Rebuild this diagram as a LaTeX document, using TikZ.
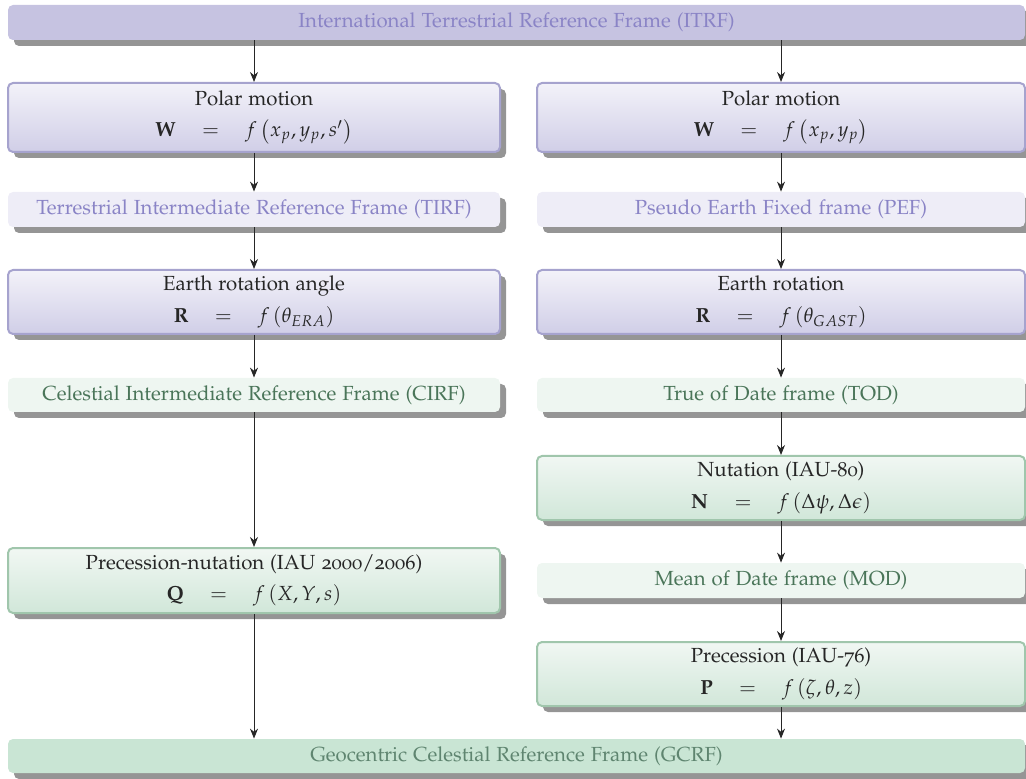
\documentclass[tikz,border=0pt]{standalone}
\usepackage[T1]{fontenc}
\usepackage[osf]{mathpazo}
\usetikzlibrary{shadows,arrows.meta}
\definecolor{lavbar}{HTML}{C6C3E1}
\definecolor{lavtext}{HTML}{8A84C6}
\definecolor{lavlight}{HTML}{EEEDF7}
\definecolor{lavtop}{HTML}{F3F2F9}
\definecolor{lavbot}{HTML}{D0CEE7}
\definecolor{lavborder}{HTML}{A6A3CE}
\definecolor{grnbar}{HTML}{C9E5D4}
\definecolor{grntext}{HTML}{4A7559}
\definecolor{grnbartext}{HTML}{5F8570}
\definecolor{grnlight}{HTML}{EEF6F1}
\definecolor{grntop}{HTML}{F1F7F3}
\definecolor{grnbot}{HTML}{D1E7D9}
\definecolor{grnborder}{HTML}{A0C6AC}
\definecolor{shadowgray}{HTML}{959595}
\tikzset{
  base/.style={rounded corners=2.5pt, inner sep=0pt, align=center,
    drop shadow={shadow xshift=3pt, shadow yshift=-3pt, fill=shadowgray, opacity=1}},
  lavbarbox/.style={base, fill=lavbar, text=lavtext},
  lavframe/.style={base, fill=lavlight, text=lavtext},
  lavproc/.style={base, draw=lavborder, line width=1pt, top color=lavtop, bottom color=lavbot, text=black!85},
  grnbarbox/.style={base, fill=grnbar, text=grnbartext},
  grnframe/.style={base, fill=grnlight, text=grntext},
  grnproc/.style={base, draw=grnborder, line width=1pt, top color=grntop, bottom color=grnbot, text=black!85},
  arr/.style={-{Stealth[length=5pt,width=4pt]}, line width=0.5pt, black!85},
}
\begin{document}
\begin{tikzpicture}[x=0.5pt,y=-0.5pt]
\useasboundingbox (0,0) rectangle (1026,779);
\fontsize{10.2}{12.2}\selectfont
% top bar
\node[lavbarbox, minimum width=508.5pt, minimum height=17.5pt] (itrf) at (516.5,22.5) {International Terrestrial Reference Frame (ITRF)};
% left column
\node[lavproc, minimum width=246pt, minimum height=34.5pt] (pmL) at (254,117.5)
  {Polar motion\\[3.5pt] $\mathbf{W}\quad = \quad f\left(x_p,y_p,s'\right)$};
\node[lavframe, minimum width=246pt, minimum height=17.5pt] (tirf) at (254,209.5) {Terrestrial Intermediate Reference Frame (TIRF)};
\node[lavproc, minimum width=246pt, minimum height=32pt] (erL) at (254,302)
  {Earth rotation angle\\[3.5pt] $\mathbf{R}\quad = \quad f\left(\theta_{ERA}\right)$};
\node[grnframe, minimum width=246pt, minimum height=17pt] (cirf) at (254,395) {Celestial Intermediate Reference Frame (CIRF)};
\node[grnproc, minimum width=246pt, minimum height=32.5pt] (pnL) at (254,580.5)
  {Precession-nutation (IAU 2000/2006)\\[3.5pt] $\mathbf{Q}\quad = \quad f\left(X,Y,s\right)$};
% right column
\node[lavproc, minimum width=244pt, minimum height=34.5pt] (pmR) at (781,117.5)
  {Polar motion\\[3.5pt] $\mathbf{W}\quad = \quad f\left(x_p,y_p\right)$};
\node[lavframe, minimum width=244pt, minimum height=17.5pt] (pef) at (781,209.5) {Pseudo Earth Fixed frame (PEF)};
\node[lavproc, minimum width=244pt, minimum height=32pt] (erR) at (781,302)
  {Earth rotation\\[3.5pt] $\mathbf{R}\quad = \quad f\left(\theta_{GAST}\right)$};
\node[grnframe, minimum width=244pt, minimum height=17pt] (tod) at (781,395) {True of Date frame (TOD)};
\node[grnproc, minimum width=244pt, minimum height=32pt] (nut) at (781,488)
  {Nutation (IAU-80)\\[3.5pt] $\mathbf{N}\quad = \quad f\left(\Delta\psi,\Delta\epsilon\right)$};
\node[grnframe, minimum width=244pt, minimum height=17.5pt] (mod) at (781,580.5) {Mean of Date frame (MOD)};
\node[grnproc, minimum width=244pt, minimum height=32pt] (prec) at (781,674)
  {Precession (IAU-76)\\[3.5pt] $\mathbf{P}\quad = \quad f\left(\zeta,\theta,z\right)$};
% bottom bar
\node[grnbarbox, minimum width=508.5pt, minimum height=17pt] (gcrf) at (516.5,756) {Geocentric Celestial Reference Frame (GCRF)};
% arrows left
\draw[arr] (itrf.south -| pmL.north) -- (pmL.north);
\draw[arr] (pmL.south) -- (tirf.north);
\draw[arr] (tirf.south) -- (erL.north);
\draw[arr] (erL.south) -- (cirf.north);
\draw[arr] (cirf.south) -- (pnL.north);
\draw[arr] (pnL.south) -- (pnL.south |- gcrf.north);
% arrows right
\draw[arr] (itrf.south -| pmR.north) -- (pmR.north);
\draw[arr] (pmR.south) -- (pef.north);
\draw[arr] (pef.south) -- (erR.north);
\draw[arr] (erR.south) -- (tod.north);
\draw[arr] (tod.south) -- (nut.north);
\draw[arr] (nut.south) -- (mod.north);
\draw[arr] (mod.south) -- (prec.north);
\draw[arr] (prec.south) -- (prec.south |- gcrf.north);
\end{tikzpicture}
\end{document}
